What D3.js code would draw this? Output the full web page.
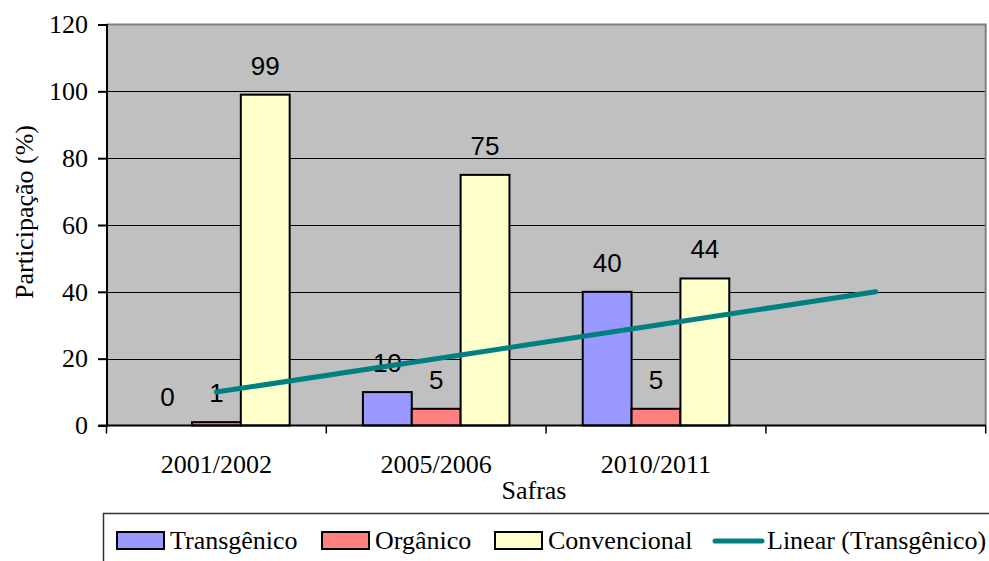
<!DOCTYPE html>
<html>
<head>
<meta charset="utf-8">
<script src="https://cdn.jsdelivr.net/npm/d3@7"></script>
<style>
  body { margin: 0; background: #fff; }
  svg { display: block; }
</style>
</head>
<body>
<svg id="chart"></svg>
<script>
// data
const categories = ['2001/2002', '2005/2006', '2010/2011', '']
const series = ['Transgênico', 'Orgânico', 'Convencional']
const transgenico = [0, 10, 40]
const organico = [1, 5, 5]
const convencional = [99, 75, 44]
const trendTransgenico = [10, 20, 30, 40]
const yTicks = [0, 20, 40, 60, 80, 100, 120]

const WIDTH = 989
const HEIGHT = 561
const PLOT = { left: 106.5, right: 985.7, top: 24.5, bottom: 425.5 }
const SERIF = "'Liberation Serif', 'Times New Roman', serif"
const SANS = "'Liberation Sans', Arial, sans-serif"
const COLORS = { 'Transgênico': '#9999ff', 'Orgânico': '#ff8080', 'Convencional': '#ffffcc' }
const TREND = '#008080'

const values = { 'Transgênico': transgenico, 'Orgânico': organico, 'Convencional': convencional }

const svg = d3.select('#chart')
  .attr('width', WIDTH)
  .attr('height', HEIGHT)

const x0 = d3.scaleBand()
  .domain(categories.map((d, i) => i))
  .range([PLOT.left, PLOT.right])

const x1 = d3.scaleBand()
  .domain(series)
  .range([0, x0.bandwidth()])
  .paddingOuter(0.75)

const y = d3.scaleLinear()
  .domain([0, 120])
  .range([PLOT.bottom, PLOT.top])

// plot background
svg.append('rect')
  .attr('x', PLOT.left)
  .attr('y', PLOT.top)
  .attr('width', PLOT.right - PLOT.left)
  .attr('height', PLOT.bottom - PLOT.top)
  .attr('fill', '#c0c0c0')

// grid lines
svg.append('g')
  .selectAll('line')
  .data(yTicks.filter(d => d > 0 && d < 120))
  .enter()
  .append('line')
  .attr('x1', PLOT.left)
  .attr('x2', PLOT.right)
  .attr('y1', d => Math.round(y(d)) + 0.5)
  .attr('y2', d => Math.round(y(d)) + 0.5)
  .attr('stroke', '#000')
  .attr('stroke-width', 1)

// top and right border
svg.append('path')
  .attr('d', `M${PLOT.left},${PLOT.top}H${PLOT.right}V${PLOT.bottom}`)
  .attr('fill', 'none')
  .attr('stroke', '#808080')
  .attr('stroke-width', 2)

// bars
const groups = svg.append('g')
  .selectAll('g')
  .data(categories.slice(0, 3))
  .enter()
  .append('g')
  .attr('transform', (d, i) => `translate(${x0(i)},0)`)

groups.selectAll('rect')
  .data((d, i) => series.map(s => ({ s, v: values[s][i] })).filter(d => d.v > 0))
  .enter()
  .append('rect')
  .attr('x', d => x1(d.s))
  .attr('y', d => y(d.v))
  .attr('width', x1.bandwidth())
  .attr('height', d => y(0) - y(d.v))
  .attr('fill', d => COLORS[d.s])
  .attr('stroke', '#000')
  .attr('stroke-width', 2)

// value labels
groups.selectAll('text')
  .data((d, i) => series.map(s => ({ s, v: values[s][i] })))
  .enter()
  .append('text')
  .attr('x', d => x1(d.s) + x1.bandwidth() / 2)
  .attr('y', d => y(d.v) - 20)
  .attr('text-anchor', 'middle')
  .attr('font-family', SANS)
  .attr('font-size', 26)
  .attr('fill', '#000')
  .text(d => d.v)

// trend line
const line = d3.line()
  .x((d, i) => x0(i) + x0.bandwidth() / 2)
  .y(d => y(d))

svg.append('path')
  .datum(trendTransgenico)
  .attr('d', line)
  .attr('fill', 'none')
  .attr('stroke', TREND)
  .attr('stroke-width', 5)
  .attr('stroke-linecap', 'round')

// y axis
const yAxis = svg.append('g')
  .attr('transform', `translate(${PLOT.left},0)`)
  .call(d3.axisLeft(y).tickValues(yTicks).tickSize(8.5).tickPadding(10))
yAxis.attr('font-family', SERIF).attr('font-size', 26)
yAxis.selectAll('path, line').attr('stroke', '#000').attr('stroke-width', 2)
yAxis.selectAll('text')
  .attr('font-family', SERIF)
  .attr('font-size', 26)
  .attr('fill', '#000')

// x axis
const xAxis = svg.append('g')
  .attr('transform', `translate(0,${PLOT.bottom})`)
xAxis.append('line')
  .attr('x1', PLOT.left - 8)
  .attr('x2', PLOT.right)
  .attr('stroke', '#000')
  .attr('stroke-width', 2)
xAxis.selectAll('.tick')
  .data(categories.map((d, i) => i).concat([categories.length]))
  .enter()
  .append('line')
  .attr('x1', i => i < categories.length ? x0(i) : PLOT.right)
  .attr('x2', i => i < categories.length ? x0(i) : PLOT.right)
  .attr('y1', 0)
  .attr('y2', 8)
  .attr('stroke', '#000')
  .attr('stroke-width', 1.5)
xAxis.selectAll('text')
  .data(categories)
  .enter()
  .append('text')
  .attr('x', (d, i) => x0(i) + x0.bandwidth() / 2)
  .attr('y', 47.5)
  .attr('text-anchor', 'middle')
  .attr('font-family', SERIF)
  .attr('font-size', 26)
  .text(d => d)

// axis titles
svg.append('text')
  .attr('x', 534)
  .attr('y', 499)
  .attr('text-anchor', 'middle')
  .attr('font-family', SERIF)
  .attr('font-size', 26)
  .text('Safras')

svg.append('text')
  .attr('transform', 'translate(33,212) rotate(-90)')
  .attr('text-anchor', 'middle')
  .attr('font-family', SERIF)
  .attr('font-size', 26)
  .text('Participação (%)')

// legend
const legend = svg.append('g')
legend.append('rect')
  .attr('x', 103.5)
  .attr('y', 513.5)
  .attr('width', 900)
  .attr('height', 60)
  .attr('fill', '#fff')
  .attr('stroke', '#333')
  .attr('stroke-width', 1.5)

const legendX = [117, 322, 495]
series.forEach((s, i) => {
  legend.append('rect')
    .attr('x', legendX[i])
    .attr('y', 532)
    .attr('width', 47)
    .attr('height', 17)
    .attr('fill', COLORS[s])
    .attr('stroke', '#000')
    .attr('stroke-width', 2)
  legend.append('text')
    .attr('x', legendX[i] + 53)
    .attr('y', 549)
    .attr('font-family', SERIF)
    .attr('font-size', 26)
    .text(s)
})
legend.append('line')
  .attr('x1', 715)
  .attr('x2', 762)
  .attr('y1', 541)
  .attr('y2', 541)
  .attr('stroke', TREND)
  .attr('stroke-width', 5)
  .attr('stroke-linecap', 'round')
legend.append('text')
  .attr('x', 767)
  .attr('y', 549)
  .attr('font-family', SERIF)
  .attr('font-size', 26)
  .text('Linear (Transgênico)')
</script>
</body>
</html>
